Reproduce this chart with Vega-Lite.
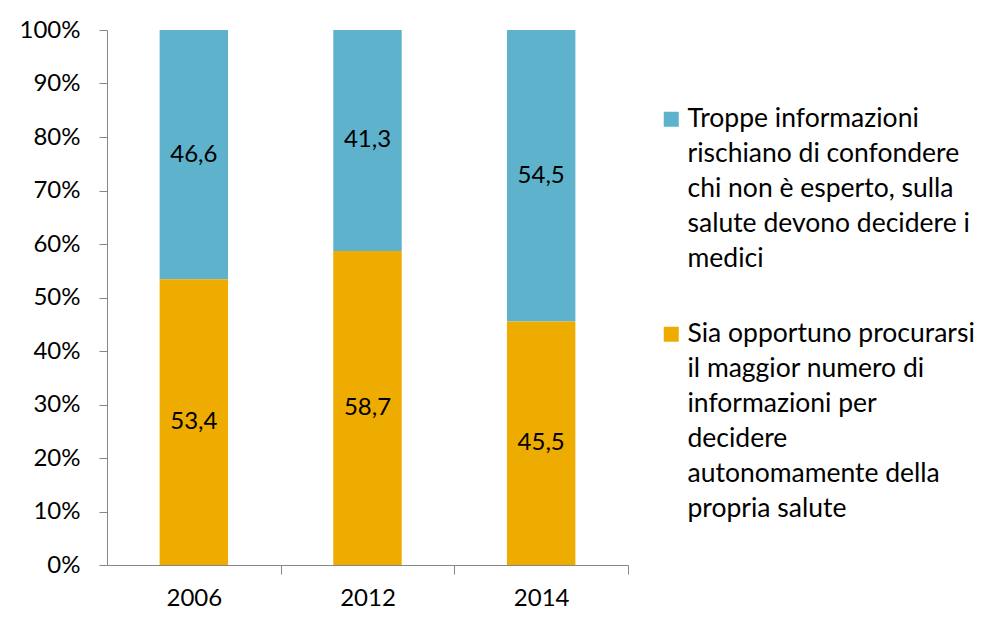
{
  "$schema": "https://vega.github.io/schema/vega-lite/v6.json",
  "autosize": "none",
  "width": 521,
  "height": 535,
  "padding": {"left": 107, "top": 30, "right": 376, "bottom": 69},
  "background": "white",
  "config": {
    "locale": {"number": {"decimal": ",", "thousands": ".", "grouping": [3], "currency": ["€", ""]}},
    "view": {"stroke": null},
    "font": "Lato"
  },
  "data": {
    "values": [
      {"anno": "2006", "opinione": "Troppe informazioni rischiano di confondere chi non è esperto, sulla salute devono decidere i medici", "valore": 46.6},
      {"anno": "2006", "opinione": "Sia opportuno procurarsi il maggior numero di informazioni per decidere autonomamente della propria salute", "valore": 53.4},
      {"anno": "2012", "opinione": "Troppe informazioni rischiano di confondere chi non è esperto, sulla salute devono decidere i medici", "valore": 41.3},
      {"anno": "2012", "opinione": "Sia opportuno procurarsi il maggior numero di informazioni per decidere autonomamente della propria salute", "valore": 58.7},
      {"anno": "2014", "opinione": "Troppe informazioni rischiano di confondere chi non è esperto, sulla salute devono decidere i medici", "valore": 54.5},
      {"anno": "2014", "opinione": "Sia opportuno procurarsi il maggior numero di informazioni per decidere autonomamente della propria salute", "valore": 45.5}
    ]
  },
  "encoding": {
    "x": {
      "field": "anno", "type": "nominal",
      "scale": {"paddingInner": 0.606, "paddingOuter": 0.303},
      "axis": {
        "title": null, "labelAngle": 0, "tickOffset": 86.8, "labelOffset": -86.8, "tickSize": 9,
        "labelPadding": 12, "labelFontSize": 24, "labelColor": "black",
        "domainColor": "#868686", "tickColor": "#868686", "labelFont": "Lato"
      }
    },
    "order": {"field": "opinione", "sort": "ascending"}
  },
  "layer": [
    {
      "mark": {"type": "bar"},
      "encoding": {
        "y": {
          "field": "valore", "type": "quantitative", "stack": "normalize",
          "axis": {
            "title": null, "format": "0%", "values": [0, 0.1, 0.2, 0.3, 0.4, 0.5, 0.6, 0.7, 0.8, 0.9, 1],
            "grid": false, "tickSize": 8, "labelPadding": 19, "labelFontSize": 24,
            "labelColor": "black", "domainColor": "#868686", "tickColor": "#868686", "labelFont": "Lato"
          }
        },
        "color": {
          "field": "opinione", "type": "nominal",
          "scale": {
            "domain": [
              "Troppe informazioni rischiano di confondere chi non è esperto, sulla salute devono decidere i medici",
              "Sia opportuno procurarsi il maggior numero di informazioni per decidere autonomamente della propria salute"
            ],
            "range": ["#5EB2CB", "#EEAB00"]
          },
          "legend": {
            "orient": "none", "legendX": 551, "legendY": 76, "padding": 0,
            "title": null, "symbolType": "square", "symbolSize": 225, "symbolStrokeWidth": 0,
            "labelFontSize": 26.5, "labelFont": "Lato", "labelColor": "black", "labelLimit": 400, "labelOffset": 3,
            "rowPadding": 48, "labelBaseline": "top",
            "labelExpr": "indexof(datum.label, 'Troppe') == 0 ? ['Troppe informazioni', 'rischiano di confondere', 'chi non è esperto, sulla', 'salute devono decidere i', 'medici'] : ['Sia opportuno procurarsi', 'il maggior numero di', 'informazioni per', 'decidere', 'autonomamente della', 'propria salute']",
            "encode": {"labels": {"update": {"lineHeight": {"value": 35}, "dy": {"value": -13}}}}
          }
        }
      }
    },
    {
      "mark": {"type": "text", "fontSize": 24, "color": "black", "font": "Lato"},
      "encoding": {
        "y": {"field": "valore", "type": "quantitative", "stack": "normalize", "bandPosition": 0.5},
        "text": {"field": "valore", "type": "quantitative", "format": ".1f"}
      }
    }
  ]
}
